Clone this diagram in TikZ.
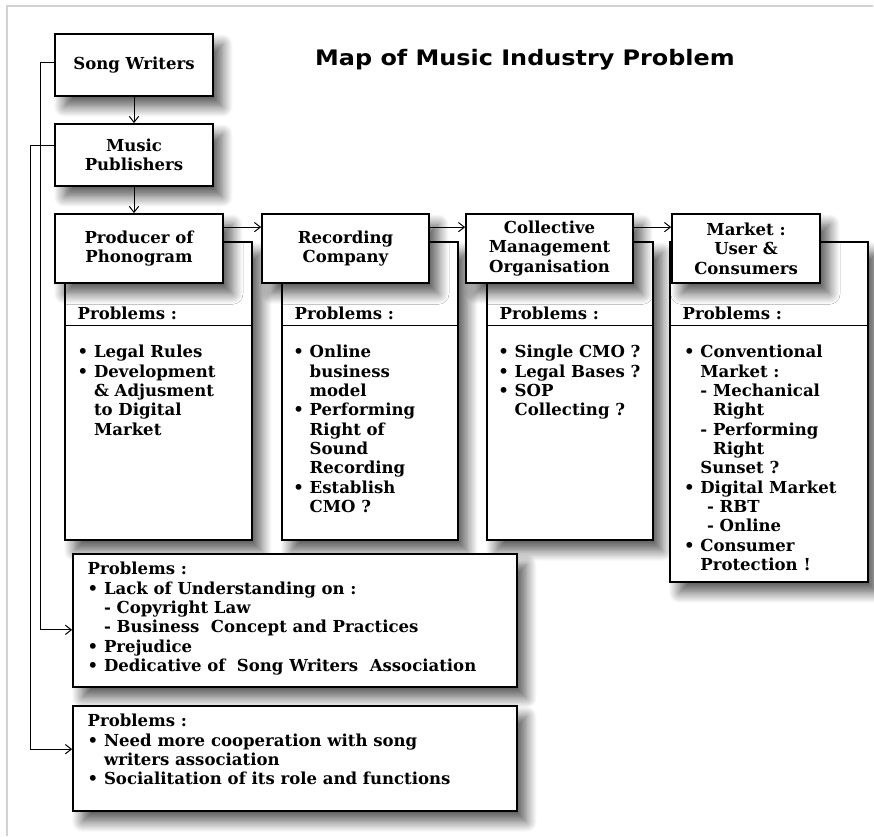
\documentclass[tikz,border=0pt]{standalone}
\usepackage{fontspec}
\setmainfont{DejaVu Serif}
\newfontfamily\titlefont{DejaVu Sans}[FakeStretch=1.12]
\usetikzlibrary{shapes,arrows.meta,positioning,shadows.blur}

\newcommand{\mapfont}{\bfseries\fontsize{12.4}{14.5}\selectfont}
\newcommand{\bul}{\textbullet\ }
\newcommand{\ind}{\hphantom{\textbullet\ }}

\tikzset{softshadow/.style={blur shadow={shadow xshift=7pt, shadow yshift=-8pt, shadow blur steps=12, shadow blur radius=8pt, shadow opacity=65}}}
\tikzstyle{block} = [rectangle, draw, line width=1.3pt, fill=white, font=\mapfont, align=center, inner sep=0pt, softshadow]
\tikzstyle{probbox} = [rectangle, draw, line width=1.3pt, fill=white, inner sep=0pt, softshadow]
\tikzstyle{probhead} = [font=\mapfont, anchor=west, inner sep=0pt]
\tikzstyle{problist} = [font=\mapfont, align=left, anchor=north west, inner sep=0pt]
\tikzstyle{line} = [draw, line width=0.75pt, -{Straight Barb[length=4.5pt,width=7pt]}]
\tikzstyle{divider} = [draw, line width=0.6pt]

\begin{document}
\begin{tikzpicture}[x=0.75pt, y=-0.75pt, node distance=2cm]
      \useasboundingbox (0,0) rectangle (874,836);
      \draw[gray!35, line width=1pt] (7,836) -- (7,6) -- (873,6);

      % Title
      \node[font=\titlefont\bfseries\fontsize{16}{18}\selectfont] (title) at (525,60) {Map of Music Industry Problem};

      % Place nodes
      \node [block, minimum width=118.5pt, minimum height=46.5pt] (sw) at (134,65) {Song Writers};
      \node [block, minimum width=118.5pt, minimum height=46.5pt, below of=sw, node distance=67.5pt] (mp) {Music\\Publishers};

      % problem boxes behind the header row
      \node [probbox, minimum width=140.25pt, minimum height=223.5pt] (pprod) at (158.5,391) {};
      \node [probbox, minimum width=132pt, minimum height=223.5pt] (prec) at (370,391) {};
      \node [probbox, minimum width=124.5pt, minimum height=223.5pt] (pcmo) at (570,391) {};
      \node [probbox, minimum width=148.5pt, minimum height=255pt] (pmkt) at (769,412) {};

      \foreach \p in {pprod,prec,pcmo,pmkt} {
        \path [divider] ([yshift=-63pt]\p.north west) -- ([yshift=-63pt]\p.north east);
        \node [probhead] at ([xshift=10pt, yshift=-54pt]\p.north west) {Problems :};
      }

      \node [problist] (lprod) at ([xshift=10pt, yshift=-78pt]pprod.north west)
        {\bul Legal Rules\\ \bul Development\\ \ind\& Adjusment\\ \ind to Digital\\ \ind Market};
      \node [problist] (lrec) at ([xshift=9pt, yshift=-78pt]prec.north west)
        {\bul Online\\ \ind business\\ \ind model\\ \bul Performing\\ \ind Right of\\ \ind Sound\\ \ind Recording\\ \bul Establish\\ \ind CMO ?};
      \node [problist] (lcmo) at ([xshift=9pt, yshift=-78pt]pcmo.north west)
        {\bul Single CMO ?\\ \bul Legal Bases ?\\ \bul SOP\\ \ind Collecting ?};
      \node [problist] (lmkt) at ([xshift=11pt, yshift=-78pt]pmkt.north west)
        {\bul Conventional\\ \ind Market :\\ \ind - Mechanical\\ \ind\hphantom{- }Right\\ \ind - Performing\\ \ind\hphantom{- }Right\\ \ind Sunset ?\\ \bul Digital Market\\ \ind\hspace*{0.4em}- RBT\\ \ind\hspace*{0.4em}- Online\\ \bul Consumer\\ \ind Protection !};

      % header row
      \node [block, minimum width=126pt, minimum height=51.75pt] (prod) at (139,248.5) {Producer of\\Phonogram};
      \node [block, minimum width=125.25pt, minimum height=51.75pt, right of=prod, node distance=154.9pt] (rec) {Recording\\Company};
      \node [block, minimum width=125.25pt, minimum height=51.75pt, right of=rec, node distance=153pt] (cmo) {Collective\\Management\\Organisation};
      \node [block, minimum width=111pt, minimum height=51.75pt, right of=cmo, node distance=147.4pt] (mkt) {Market :\\User \&\\Consumers};

      % bottom problem boxes
      \node [probbox, minimum width=333pt, minimum height=99.75pt] (pwri) at (295,620.5) {};
      \node [problist] (lwri) at ([xshift=11.5pt, yshift=-6.75pt]pwri.north west)
        {Problems :\\ \bul Lack of Understanding on :\\ \ind - Copyright Law\\ \ind - Business~ Concept and Practices\\ \bul Prejudice\\ \bul Dedicative of~ Song Writers~ Association};
      \node [probbox, minimum width=333pt, minimum height=78.75pt] (ppub) at (295,758.5) {};
      \node [problist] (lpub) at ([xshift=11.5pt, yshift=-6.75pt]ppub.north west)
        {Problems :\\ \bul Need more cooperation with song\\ \ind writers association\\ \bul Socialitation of its role and functions};

      % Draw edges
      \path [line] (sw) -- (mp);
      \path [line] (mp) -- (mp.south |- prod.north);
      \path [line] ([yshift=-10.5pt]prod.north east) -- ([yshift=-10.5pt]rec.north west);
      \path [line] ([yshift=-10.5pt]rec.north east) -- ([yshift=-10.5pt]cmo.north west);
      \path [line] ([yshift=-10.5pt]cmo.north east) -- ([yshift=-10.5pt]mkt.north west);
      \path [line] ([yshift=2.25pt]sw.west) -- ++(-14,0) |- ([yshift=-7pt]pwri.west);
      \path [line] ([yshift=7.5pt]mp.west) -- ++(-24,0) |- ([yshift=7pt]ppub.west);
\end{tikzpicture}
\end{document}
